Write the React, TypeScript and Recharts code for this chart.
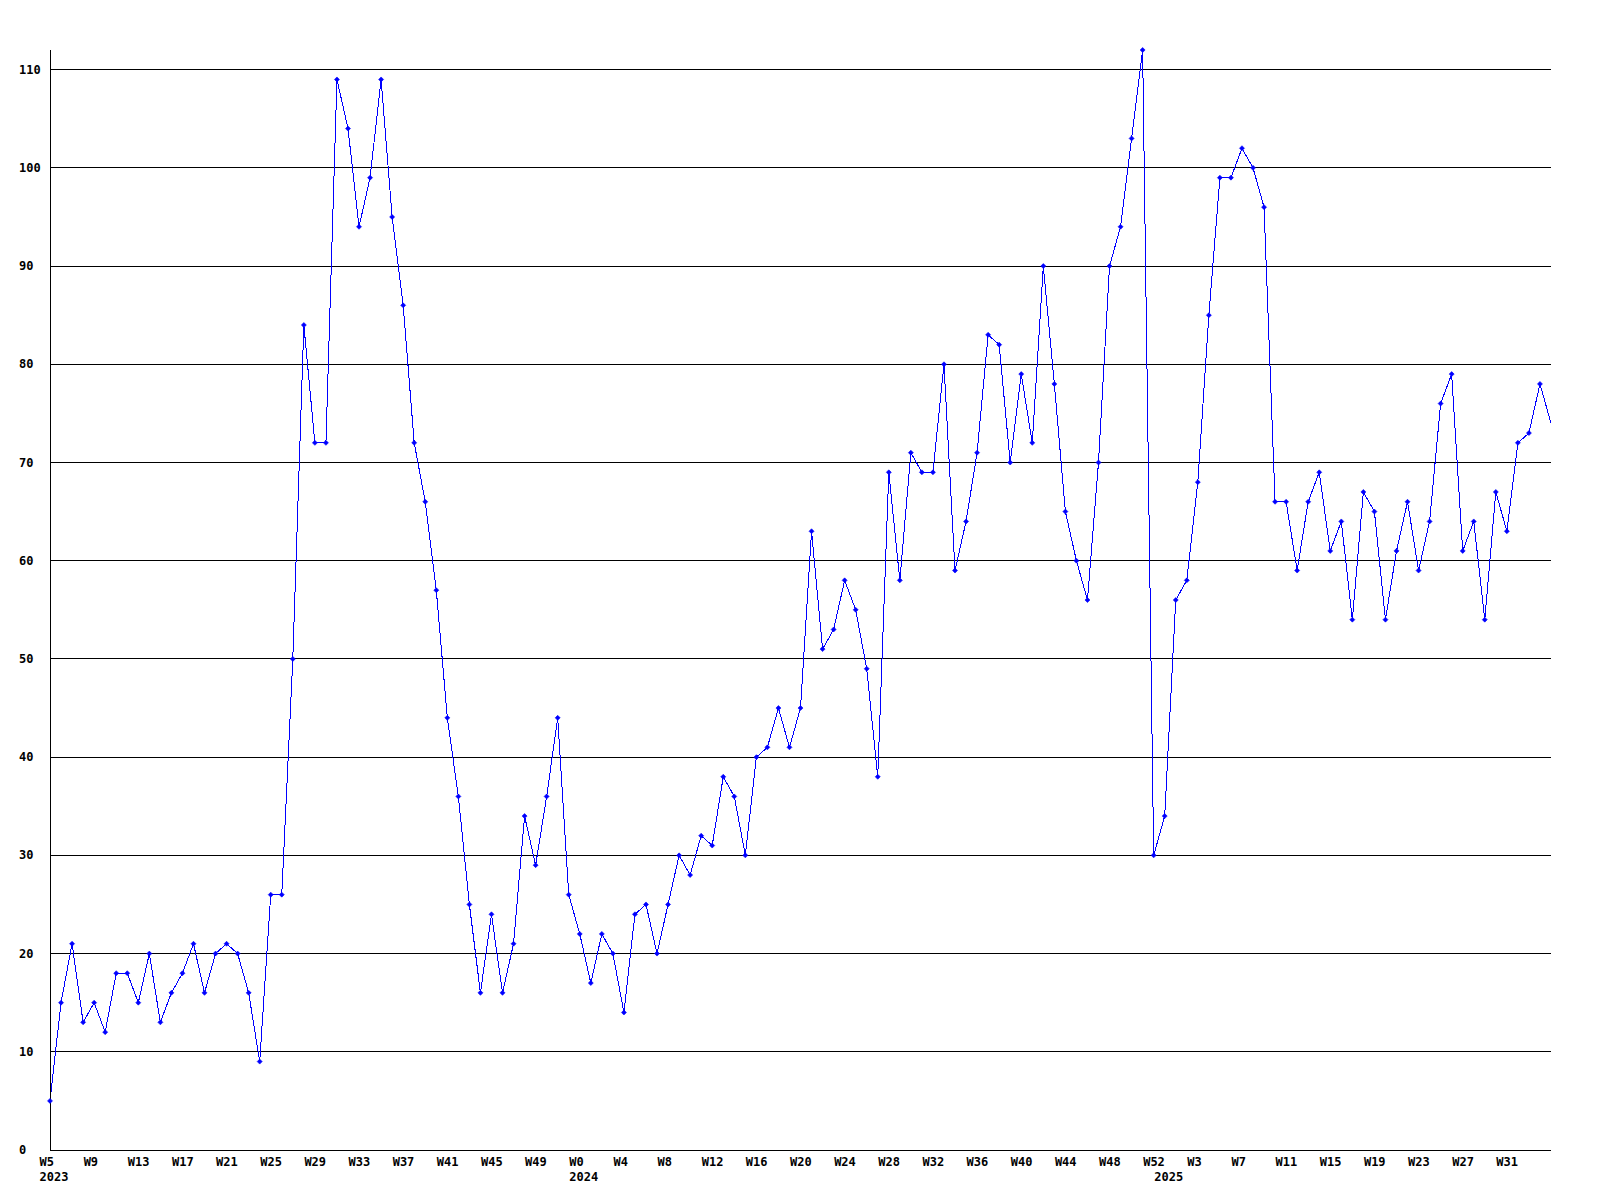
import React from "react";
import { LineChart, Line, XAxis, YAxis, CartesianGrid } from "recharts";

// weekly counts, 2023 starts at W5, the other years at W0
const firstWeek2023 = 5;
const values2023 = [
    5, 15, 21, 13, 15, 12, 18, 18, 15, 20, 13, 16, 18, 21, 16, 20, 21, 20, 16, 9, 26, 26, 50, 84,
    72, 72, 109, 104, 94, 99, 109, 95, 86, 72, 66, 57, 44, 36, 25, 16, 24, 16, 21, 34, 29, 36, 44, 26,
];
const values2024 = [
    22, 17, 22, 20, 14, 24, 25, 20, 25, 30, 28, 32, 31, 38, 36, 30, 40, 41, 45, 41, 45, 63, 51, 53,
    58, 55, 49, 38, 69, 58, 71, 69, 69, 80, 59, 64, 71, 83, 82, 70, 79, 72, 90, 78, 65, 60, 56, 70,
    90, 94, 103, 112, 30,
];
const values2025 = [
    34, 56, 58, 68, 85, 99, 99, 102, 100, 96, 66, 66, 59, 66, 69, 61, 64, 54, 67, 65, 54, 61, 66, 59,
    64, 76, 79, 61, 64, 54, 67, 63, 72, 73, 78, 74,
];
const yTicks = [0, 10, 20, 30, 40, 50, 60, 70, 80, 90, 100, 110];
const yMax = 112;
const labelEvery = 4;

type Row = { key: string; week: string; year: string; value: number };

const yearSeries: Array<{ year: string; start: number; values: number[] }> = [
    { year: "2023", start: firstWeek2023, values: values2023 },
    { year: "2024", start: 0, values: values2024 },
    { year: "2025", start: 0, values: values2025 },
];

const data: Row[] = yearSeries.flatMap((s) =>
    s.values.map((v, i) => ({
        key: `${s.year}-W${s.start + i}`,
        week: `W${s.start + i}`,
        year: i === 0 ? s.year : "",
        value: v,
    }))
);

const FONT = "'DejaVu Sans Mono', monospace";

function WeekTick(props: any) {
    const { x, y, index } = props;
    const row = data[index];
    if (!row) return null;
    const showWeek = index % labelEvery === 0 && index !== data.length - 1;
    return (
        <g>
            {showWeek && (
                <text x={x - 10.5} y={y + 12} dominantBaseline="central" fontFamily={FONT} fontSize={12} fontWeight="bold" fill="#000">
                    {row.week}
                </text>
            )}
            {row.year && (
                <text x={x - 10.5} y={y + 27} dominantBaseline="central" fontFamily={FONT} fontSize={12} fontWeight="bold" fill="#000">
                    {row.year}
                </text>
            )}
        </g>
    );
}

function ValueTick(props: any) {
    const { x, y, payload } = props;
    return (
        <text x={x - 31} y={y} dominantBaseline="central" fontFamily={FONT} fontSize={12} fontWeight="bold" fill="#000">
            {payload.value}
        </text>
    );
}

function Marker(props: any) {
    const { cx, cy, index } = props;
    if (index === data.length - 1 || cx == null) return <g key={index} />;
    const r = 2.5;
    return (
        <path
            key={index}
            d={`M${cx - r},${cy} L${cx},${cy - r} L${cx + r},${cy} L${cx},${cy + r} Z`}
            fill="#0000ff"
            stroke="#0000ff"
            strokeWidth={0.6}
        />
    );
}

// grid rows only at the tick values, not at the top of the domain
const gridRows = (props: any) => {
    const off = props?.offset ?? { top: 50, height: 1100 };
    return yTicks.map((t) => off.top + off.height * (1 - t / yMax));
};

export default function App() {
    return (
        <div style={{ position: "absolute", left: 0, top: 0, width: 1600, height: 1200, background: "#fff" }}>
            <style>{`.recharts-cartesian-grid line, .recharts-cartesian-axis-line, .recharts-line-curve { shape-rendering: crispEdges; }`}</style>
            <LineChart width={1600} height={1200} data={data} margin={{ top: 50, right: 49, left: 0, bottom: 0 }}>
                <CartesianGrid vertical={false} stroke="#000" strokeOpacity={1} horizontalCoordinatesGenerator={gridRows} />
                <XAxis
                    dataKey="key"
                    interval={0}
                    height={50}
                    tickSize={0}
                    tickMargin={0}
                    tickLine={false}
                    axisLine={{ stroke: "#000" }}
                    tick={<WeekTick />}
                />
                <YAxis
                    domain={[0, yMax]}
                    ticks={yTicks}
                    width={50}
                    tickSize={0}
                    tickMargin={0}
                    tickLine={false}
                    axisLine={{ stroke: "#000" }}
                    tick={<ValueTick />}
                />
                <Line
                    type="linear"
                    dataKey="value"
                    stroke="#0000ff"
                    strokeWidth={1}
                    dot={<Marker />}
                    activeDot={false}
                    isAnimationActive={false}
                />
            </LineChart>
        </div>
    );
}
